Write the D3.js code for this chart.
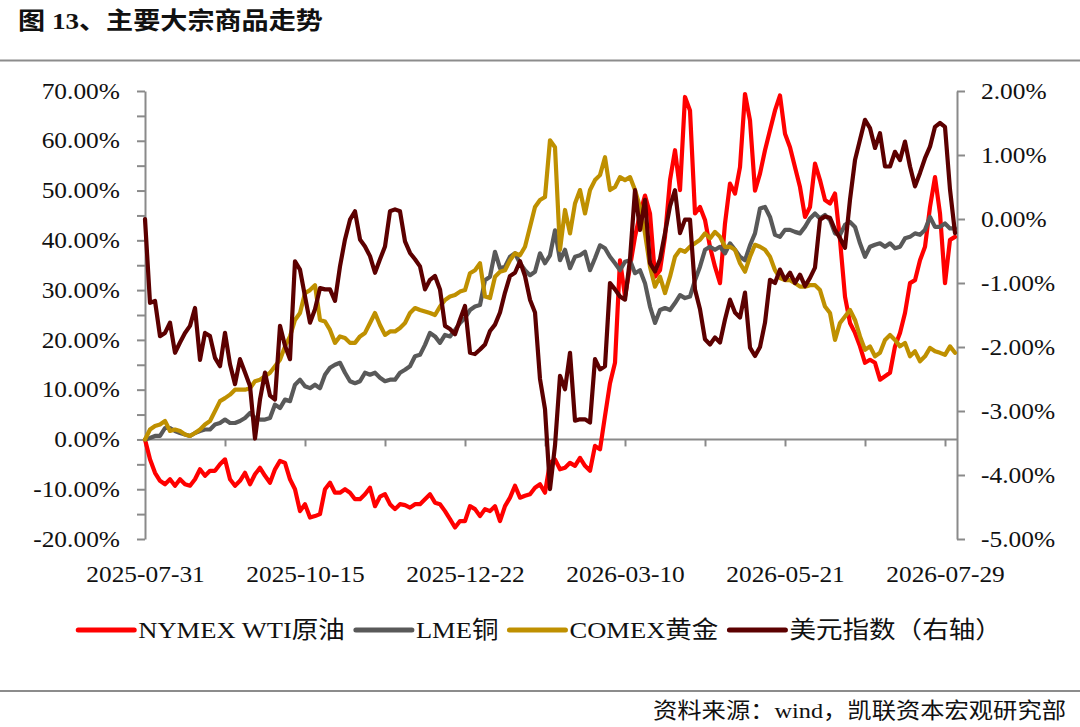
<!DOCTYPE html>
<html>
<head>
<meta charset="utf-8">
<script src="https://cdn.jsdelivr.net/npm/d3@7/dist/d3.min.js"></script>
<style>
  html, body { margin: 0; padding: 0; background: #fff; }
  svg { display: block; }
</style>
</head>
<body>
<svg id="chart" width="1080" height="727"></svg>
<script>
// ---------------- DATA ----------------
const title = "图 13、主要大宗商品走势";
const source = "资料来源：wind，凯联资本宏观研究部";
const seriesNames = ["NYMEX WTI原油", "LME铜", "COMEX黄金", "美元指数（右轴）"];
const xTickLabels = ["2025-07-31", "2025-10-15", "2025-12-22", "2026-03-10", "2026-05-21", "2026-07-29"];
const leftTicks = [-20, -10, 0, 10, 20, 30, 40, 50, 60, 70];
const rightTicks = [-5, -4, -3, -2, -1, 0, 1, 2];

// NYMEX WTI crude, cumulative change (%)
const wti = [0,-4.0,-6.7,-8.3,-9.0,-8.0,-9.3,-8.0,-9.0,-9.3,-8.0,-6.0,-7.3,-6.3,-6.3,-5.0,-4.0,-8.0,-9.3,-8.3,
-6.7,-9.0,-7.0,-5.7,-7.3,-8.7,-6.0,-4.3,-4.7,-8.0,-10.0,-14.4,-13.0,-15.7,-15.4,-15.0,-10.0,-8.7,-10.7,-10.7,
-10.0,-10.7,-12.0,-12.0,-11.0,-9.7,-13.4,-11.5,-11.0,-13.0,-14.0,-13.0,-13.2,-13.7,-13.0,-13.0,-12.0,-11.0,-12.7,-13.0,
-14.4,-16.0,-17.7,-16.4,-16.4,-13.4,-14.0,-15.4,-14.0,-14.4,-13.4,-16.4,-13.4,-11.7,-9.3,-11.7,-11.3,-11.0,-9.7,-9.0,
-10.7,-4.7,-4.0,-6.0,-5.7,-4.7,-5.3,-3.7,-5.3,-6.3,-1.3,-2.0,4.7,11.3,15.4,36.0,28.7,34.7,40.7,45.4,
49.0,45.4,32.7,34.0,40.7,52.1,58.1,50.1,68.8,66.1,45.4,46.7,44.1,38.7,34.7,31.4,43.4,51.4,49.4,54.7,
69.4,64.1,50.0,53.4,58.1,62.1,66.1,69.1,61.4,58.7,54.7,50.7,44.7,46.7,55.4,52.1,48.1,47.4,49.4,40.1,
28.7,23.4,21.4,18.7,15.4,16.0,15.4,12.0,12.7,13.4,18.7,21.4,25.4,31.4,32.0,36.0,38.7,46.7,52.7,45.4,
31.4,40.1,40.7];

// LME copper, cumulative change (%)
const copper = [0,0.3,0.7,0.7,2.3,2.3,1.7,1.3,1.0,0.7,1.3,1.7,2.0,2.0,3.0,3.3,4.0,3.3,3.3,3.7,
4.3,5.3,4.3,4.0,4.0,4.3,7.0,6.3,8.0,7.7,11.0,12.0,10.7,10.3,11.0,10.3,13.0,14.4,15.0,15.4,
13.4,11.7,11.3,11.7,13.4,13.0,13.4,12.4,11.7,12.0,12.0,13.4,14.0,14.7,16.7,17.0,19.0,21.4,20.7,19.4,
21.0,20.7,22.0,23.4,24.4,26.0,26.7,27.0,32.0,32.7,37.7,34.4,34.7,36.7,37.4,35.4,34.0,33.0,33.7,37.4,
35.4,37.0,42.0,36.0,38.1,34.4,36.7,37.0,37.7,34.0,36.4,39.0,38.4,36.7,35.4,34.0,35.7,36.0,33.4,34.0,
31.4,26.7,23.4,26.0,26.4,26.0,27.4,29.0,28.4,28.7,32.0,34.7,38.1,38.7,38.1,38.7,37.4,39.4,38.1,36.7,
36.0,39.0,41.4,46.4,46.7,44.7,41.1,40.7,42.1,42.1,41.7,41.4,42.7,44.4,45.4,44.4,45.1,44.1,41.4,41.1,
43.1,43.7,42.7,39.4,36.7,38.7,39.1,39.4,38.7,39.4,38.4,38.7,40.4,40.7,41.4,41.1,42.1,44.7,42.7,42.7,
43.4,42.4,42.4];

// COMEX gold, cumulative change (%)
const gold = [0,2.0,2.7,3.0,3.7,1.7,2.0,1.7,1.0,0.7,1.3,2.0,3.0,3.7,5.7,7.7,8.3,9.0,10.0,10.0,
10.0,10.3,11.7,12.0,12.7,13.4,14.7,16.0,18.7,20.7,24.0,25.4,29.4,30.0,31.0,24.0,23.7,22.0,19.4,20.7,
20.4,19.4,19.4,20.7,21.4,23.4,25.4,23.0,21.0,21.7,21.7,22.4,23.4,25.4,26.4,26.0,25.7,25.4,25.0,26.7,
28.0,28.7,29.0,29.7,30.0,33.4,34.0,35.4,28.7,28.4,32.7,33.7,34.0,36.0,37.4,37.0,38.7,42.7,46.7,48.1,
48.7,60.1,58.7,38.1,46.1,41.4,47.4,50.1,45.4,50.1,52.1,53.1,56.7,50.1,50.7,52.7,52.1,52.7,50.1,46.7,
41.4,34.7,30.7,32.7,29.4,32.7,36.7,38.1,37.7,38.7,39.4,40.1,41.4,40.4,41.7,40.7,38.7,38.7,38.1,35.4,
33.7,36.7,39.1,38.7,38.1,36.7,34.0,32.4,32.0,32.0,31.4,30.7,30.7,31.0,31.0,30.0,26.7,25.4,20.0,23.4,
24.7,26.0,24.0,20.7,18.0,18.7,16.7,17.4,20.0,21.0,20.0,18.7,19.4,16.7,17.7,15.7,16.7,18.4,17.7,17.4,
17.0,18.7,17.4];

// US dollar index, cumulative change (%, right axis)
const usd = [0.0,-1.31,-1.28,-1.83,-1.78,-1.62,-2.09,-1.93,-1.78,-1.67,-1.39,-2.2,-1.78,-1.83,-2.17,-2.30,-1.78,-2.27,-2.58,-2.19,
-2.40,-2.61,-3.43,-2.82,-2.40,-2.76,-2.82,-1.67,-1.98,-2.19,-0.66,-0.79,-1.21,-1.62,-1.41,-1.08,-1.10,-1.10,-1.28,-0.74,
-0.32,-0.01,0.12,-0.32,-0.43,-0.58,-0.84,-0.63,-0.43,0.12,0.15,0.12,-0.35,-0.53,-0.63,-0.74,-1.10,-0.95,-0.89,-1.10,
-1.67,-1.72,-1.80,-1.57,-1.36,-2.09,-2.11,-2.04,-1.96,-1.75,-1.65,-1.46,-1.15,-0.89,-0.84,-0.66,-0.89,-1.26,-1.46,-2.50,
-2.97,-4.22,-3.54,-2.45,-2.66,-2.09,-3.15,-3.13,-3.13,-3.18,-2.19,-2.35,-2.30,-1.00,-1.10,-1.21,-1.26,-0.63,0.45,-0.17,
0.30,-0.69,-0.82,-0.63,-0.22,0.20,0.45,-0.22,-0.01,-0.01,-1.10,-1.41,-1.88,-1.96,-1.85,-1.93,-1.57,-1.26,-1.46,-1.54,
-1.15,-2.01,-2.14,-2.0,-1.62,-0.95,-1.00,-0.79,-0.95,-0.84,-1.00,-0.87,-1.05,-0.92,-0.76,-0.01,0.04,0.02,-0.17,-0.30,
-0.45,0.30,0.92,1.24,1.55,1.42,1.11,1.34,0.82,0.82,1.05,0.92,1.21,0.82,0.51,0.72,0.95,1.13,1.44,1.50,
1.44,0.46,-0.22];

const labelStep = 32;   // categories between date labels
const tickStep = 16;    // categories between tick marks

// ---------------- STYLE ----------------
const colors = ["#FF0000", "#595959", "#BF9000", "#5C0000"];
const axisColor = "#8a8a8a";
const textColor = "#111";
const FONT = "'Liberation Serif','Times New Roman','Noto Sans CJK SC',serif";
const SX = 1.13;   // horizontal stretch of the reference text
const AXIS_FS = 22.5;

const W = 1080, H = 727;
const plot = { left: 145, right: 957, top: 91, bottom: 539 };
const N = wti.length;

const svg = d3.select("#chart");
svg.append("rect").attr("width", W).attr("height", H).attr("fill", "#fff");

const x = d3.scaleLinear().domain([0, N - 1]).range([plot.left, plot.right - 2]);
const yL = d3.scaleLinear().domain([-20, 70]).range([plot.bottom, plot.top]);
const yR = d3.scaleLinear().domain([-5, 2]).range([plot.bottom, plot.top]);

function addText(g, px, py, txt, size, anchor, weight) {
  return g.append("text")
    .attr("transform", `translate(${px},${py}) scale(${SX},1)`)
    .attr("font-family", FONT)
    .attr("font-size", size)
    .attr("font-weight", weight || "normal")
    .attr("text-anchor", anchor || "start")
    .attr("fill", textColor)
    .text(txt);
}

// title and rules
addText(svg, 18, 29, title, 24, "start", "bold");
svg.append("line").attr("x1", 0).attr("x2", W).attr("y1", 60.5).attr("y2", 60.5)
  .attr("stroke", "#8c8c8c").attr("stroke-width", 2);
svg.append("line").attr("x1", 0).attr("x2", W).attr("y1", 691).attr("y2", 691)
  .attr("stroke", "#8c8c8c").attr("stroke-width", 2);
addText(svg, 1066, 718, source, 21.5, "end");

function styleAxis(g) {
  g.selectAll("path, line").attr("stroke", axisColor).attr("stroke-width", 2);
  g.selectAll("text").attr("font-family", FONT).attr("font-size", AXIS_FS).attr("fill", textColor);
}

// left axis (ticks every 5, labels every 10)
const gL = svg.append("g").attr("transform", `translate(${plot.left},0)`)
  .call(d3.axisLeft(yL).tickValues(d3.range(-20, 70.001, 5)).tickSize(8).tickSizeOuter(0)
    .tickFormat(d => leftTicks.includes(d) ? d.toFixed(2) + "%" : ""));
styleAxis(gL);
gL.selectAll("text").attr("x", -25 / SX).attr("transform", `scale(${SX},1)`);

// right axis
const gR = svg.append("g").attr("transform", `translate(${plot.right},0)`)
  .call(d3.axisRight(yR).tickValues(rightTicks).tickSize(8).tickSizeOuter(0)
    .tickFormat(d => d.toFixed(2) + "%"));
styleAxis(gR);
gR.selectAll("text").attr("x", 24 / SX).attr("transform", `scale(${SX},1)`);

// x axis line at zero with tick marks
const tickIdx = d3.range(0, N, tickStep);
const gX = svg.append("g").attr("transform", `translate(0,${yL(0)})`)
  .call(d3.axisBottom(x).tickValues(tickIdx).tickSize(7).tickSizeOuter(0).tickFormat(""));
gX.select(".domain").attr("d", `M${plot.left},0H${plot.right}`);
styleAxis(gX);

// x date labels at bottom of plot
const labelIdx = xTickLabels.map((_, k) => k * labelStep);
const gXL = svg.append("g").attr("transform", `translate(0,${plot.bottom})`)
  .call(d3.axisBottom(x).tickValues(labelIdx).tickSize(0)
    .tickFormat((d, k) => xTickLabels[k]));
gXL.select(".domain").remove();
styleAxis(gXL);
gXL.selectAll("text").attr("y", 43).attr("dy", 0).attr("transform", `scale(${SX},1)`);

// series lines
const lineL = d3.line().x((d, i) => x(i)).y(d => yL(d));
const lineR = d3.line().x((d, i) => x(i)).y(d => yR(d));
const series = [
  { data: wti, line: lineL },
  { data: copper, line: lineL },
  { data: gold, line: lineL },
  { data: usd, line: lineR }
];
const gLines = svg.append("g");
series.forEach((s, k) => {
  gLines.append("path").attr("d", s.line(s.data))
    .attr("fill", "none").attr("stroke", colors[k]).attr("stroke-width", 4.2)
    .attr("stroke-linejoin", "round").attr("stroke-linecap", "round");
});

// legend
const legY = 630, lineLen = 56, gap1 = 4, gap2 = 11;
const gLeg = svg.append("g");
const items = seriesNames.map((name, k) => {
  const t = addText(gLeg, 0, legY + 8, name, 23.5, "start");
  const w = t.node().getComputedTextLength() * SX;
  return { t, w, k };
});
const total = d3.sum(items, d => lineLen + gap1 + d.w) + gap2 * (items.length - 1);
let cx = 540 - total / 2;
items.forEach(d => {
  gLeg.append("line").attr("x1", cx).attr("x2", cx + lineLen).attr("y1", legY).attr("y2", legY)
    .attr("stroke", colors[d.k]).attr("stroke-width", 5).attr("stroke-linecap", "round");
  d.t.attr("transform", `translate(${cx + lineLen + gap1},${legY + 8}) scale(${SX},1)`);
  cx += lineLen + gap1 + d.w + gap2;
});
</script>
</body>
</html>
